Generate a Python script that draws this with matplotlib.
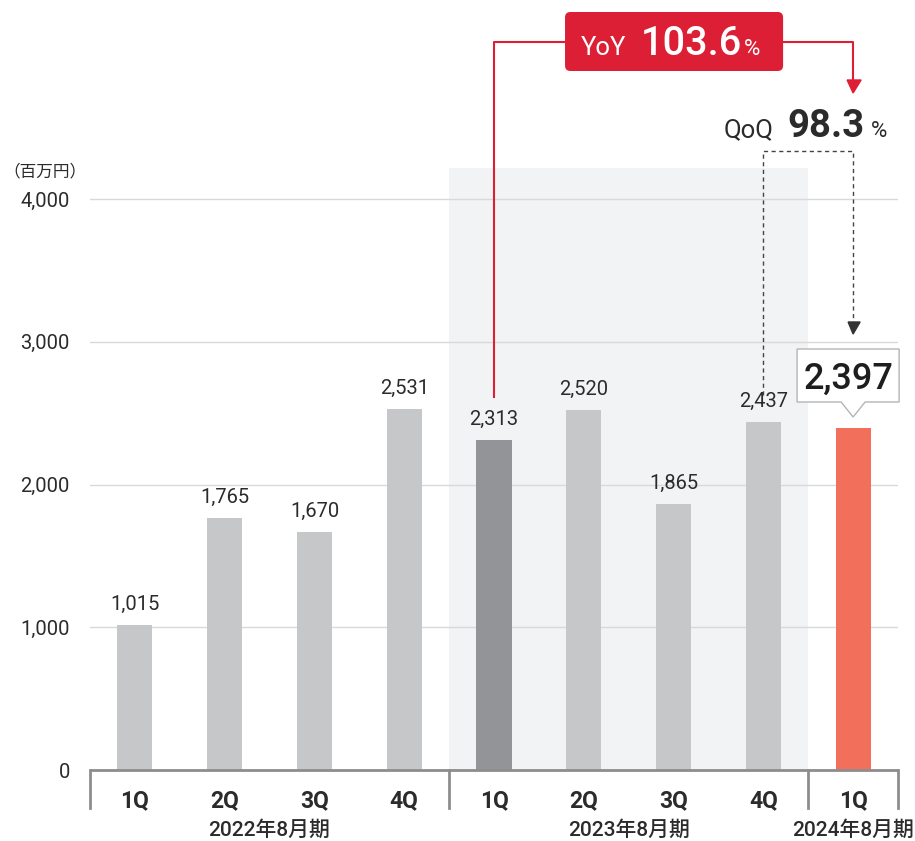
import matplotlib
matplotlib.use("Agg")
from matplotlib import pyplot as plt
from matplotlib.patches import Rectangle, FancyBboxPatch, Polygon

plt.rcParams['font.family'] = ['Roboto', 'Noto Sans CJK JP', 'DejaVu Sans']

# %% data
quarters = ['1Q', '2Q', '3Q', '4Q', '1Q', '2Q', '3Q', '4Q', '1Q']
values = [1015, 1765, 1670, 2531, 2313, 2520, 1865, 2437, 2397]
periods = ['2022年8月期', '2023年8月期', '2024年8月期']
period_centers = [1.5, 5.5, 8]
yticks = [0, 1000, 2000, 3000, 4000]
yoy_text = '103.6'
qoq_text = '98.3'

bar_colors = ['#c6c7c9'] * 4 + ['#939498'] + ['#c6c7c9'] * 3 + ['#f26f5b']
red = '#dc1f35'
txt = '#2b2b2b'

# %% figure: axes spans full height, x from pixel 90 to 898
W, H = 915, 841
fig = plt.figure(figsize=(W / 100, H / 100), dpi=100)
ax = fig.add_axes([90 / W, 0, 808 / W, 1])
y0px, unit = 770, 142.75  # pixel of zero, pixels per 1000
ax.set_ylim(-(H - y0px) / unit * 1000, y0px / unit * 1000)
ax.set_xlim(-0.5, 8.5)


def dx(p):  # pixel x -> data x
    return (p - 135) / 89.75


def dy(p):  # pixel y -> data y
    return (y0px - p) / unit * 1000


for s in ax.spines.values():
    s.set_visible(False)
ax.set_xticks([])
ax.set_yticks(yticks)
ax.set_yticklabels([f'{v:,}' for v in yticks])
ax.tick_params(axis='y', length=0, pad=14.5, labelsize=14.5, labelcolor=txt)
ax.grid(axis='y', color='#d9d9d9', lw=1, zorder=0.5)
ax.set_axisbelow(True)

# shaded previous year
ax.add_patch(Rectangle((3.5, 0), 4, dy(168), color='#f2f3f5', zorder=0.2, lw=0))

x = list(range(len(values)))
ax.bar(x, values, width=0.39, color=bar_colors, zorder=2)

for i, v in enumerate(values[:-1]):
    ax.annotate(f'{v:,}', (i, v), xytext=(0, 8), textcoords='offset points',
                ha='center', va='bottom', fontsize=14.5, color=txt)

# baseline and group separators
ax.plot([-0.5, 8.5], [0, 0], color='#8d8d8d', lw=2, zorder=3, clip_on=False,
        solid_capstyle='butt')
for b in [-0.5, 3.5, 7.5, 8.5]:
    ax.plot([b, b], [0, dy(808)], color='#8d8d8d', lw=2, zorder=3, clip_on=False)

for i, q in enumerate(quarters):
    ax.text(i, dy(801), q, ha='center', va='center', fontsize=16.5,
            fontweight='bold', color=txt)
for c, p in zip(period_centers, periods):
    ax.text(c, dy(830), p, ha='center', va='center', fontsize=15,
            fontweight='medium', color=txt)

ax.text(dx(45), dy(172), '（百万円）', ha='center', va='center', fontsize=12,
        color=txt, family=['Noto Sans CJK JP'])

# %% YoY connector
ax.plot([4, 4, dx(565)], [dy(397), dy(42), dy(42)], color=red, lw=1.5,
        zorder=4, clip_on=False)
ax.plot([dx(783), 8, 8], [dy(42), dy(42), dy(80)], color=red, lw=1.5,
        zorder=4, clip_on=False)
ax.add_patch(Polygon([(dx(847), dy(80)), (dx(861), dy(80)), (8, dy(93))],
                     closed=True, color=red, zorder=4, clip_on=False))
ax.add_patch(FancyBboxPatch((dx(565), dy(71)), dx(783) - dx(565), dy(12) - dy(71),
                            boxstyle='round,pad=0,rounding_size=0.06',
                            mutation_aspect=(dy(0) - dy(1)) / (dx(1) - dx(0)),
                            color=red, zorder=5, clip_on=False, lw=0))
ax.text(dx(581), dy(55), 'YoY', ha='left', va='baseline', fontsize=18.5,
        color='white', zorder=6)
ax.text(dx(641), dy(55), yoy_text, ha='left', va='baseline', fontsize=28.5,
        fontweight='medium', color='white', zorder=6)
ax.text(dx(744), dy(55), '%', ha='left', va='baseline', fontsize=16,
        color='white', zorder=6)

# %% QoQ connector
ax.plot([7, 7, 8, 8], [dy(395), dy(151), dy(151), dy(322)], color='#444444',
        lw=1, ls=(0, (3, 2.5)), zorder=4)
ax.add_patch(Polygon([(dx(848), dy(322)), (dx(860), dy(322)), (8, dy(334))],
                     closed=True, color='#333333', zorder=4))
ax.text(dx(724), dy(137), 'QoQ', ha='left', va='baseline', fontsize=18.5,
        color=txt)
ax.text(dx(787), dy(137), qoq_text, ha='left', va='baseline', fontsize=27.5,
        fontweight='bold', color=txt)
ax.text(dx(871), dy(137), '%', ha='left', va='baseline', fontsize=16,
        color=txt)

# %% callout for latest value
top = values[-1]
ax.add_patch(Polygon([(dx(797), dy(349)), (dx(899), dy(349)), (dx(899), dy(402)),
                      (dx(865), dy(402)), (8, dy(417)), (dx(841), dy(402)),
                      (dx(797), dy(402))], closed=True, facecolor='white',
                     edgecolor='#b5b5b5', lw=1, zorder=5, clip_on=False))
ax.text(dx(848), dy(389), f'{top:,}', ha='center', va='baseline', fontsize=26,
        fontweight='medium', color='#1e1e1e', zorder=6)

fig.savefig('out.png', dpi=100)
